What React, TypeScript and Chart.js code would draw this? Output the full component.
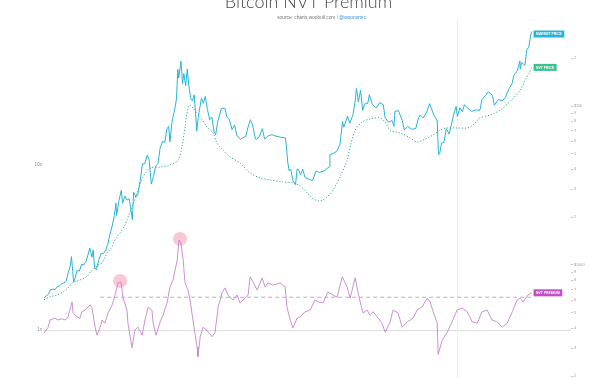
import React, { useEffect, useRef } from "react";
import { Chart, registerables } from "chart.js";
Chart.register(...registerables);

const titleText = "Bitcoin NVT Premium";
const sourceText = "source: charts.woobull.com / ";
const handleText = "@woonomic";

const marketDates = [
  "2016-10-09","2016-10-16","2016-10-23","2016-10-30","2016-11-06","2016-11-13","2016-11-20","2016-11-27",
  "2016-12-04","2016-12-11","2016-12-18","2016-12-25","2017-01-01","2017-01-04","2017-01-08","2017-01-11",
  "2017-01-15","2017-01-22","2017-01-29","2017-02-05","2017-02-12","2017-02-19","2017-02-26","2017-03-03",
  "2017-03-10","2017-03-14","2017-03-18","2017-03-24","2017-04-01","2017-04-08","2017-04-15","2017-04-22",
  "2017-04-29","2017-05-06","2017-05-13","2017-05-20","2017-05-25","2017-05-27","2017-06-03","2017-06-11",
  "2017-06-15","2017-06-22","2017-06-29","2017-07-06","2017-07-16","2017-07-20","2017-07-27","2017-08-03",
  "2017-08-10","2017-08-17","2017-08-24","2017-09-01","2017-09-07","2017-09-14","2017-09-21","2017-09-28",
  "2017-10-05","2017-10-12","2017-10-20","2017-10-27","2017-11-02","2017-11-08","2017-11-12","2017-11-19",
  "2017-11-26","2017-11-29","2017-12-03","2017-12-07","2017-12-10","2017-12-17","2017-12-22","2017-12-26",
  "2018-01-01","2018-01-06","2018-01-11","2018-01-17","2018-01-22","2018-01-28","2018-02-01","2018-02-05",
  "2018-02-10","2018-02-20","2018-02-26","2018-03-04","2018-03-11","2018-03-18","2018-03-25","2018-04-01",
  "2018-04-06","2018-04-12","2018-04-24","2018-05-05","2018-05-12","2018-05-19","2018-05-28","2018-06-05",
  "2018-06-12","2018-06-24","2018-07-01","2018-07-10","2018-07-17","2018-07-25","2018-08-01","2018-08-10",
  "2018-08-14","2018-08-22","2018-09-01","2018-09-08","2018-09-20","2018-10-01","2018-10-15","2018-11-01",
  "2018-11-13","2018-11-16","2018-11-20","2018-11-25","2018-11-30","2018-12-07","2018-12-15","2018-12-20",
  "2018-12-24","2018-12-31","2019-01-07","2019-01-14","2019-01-28","2019-02-07","2019-02-18","2019-03-01",
  "2019-03-15","2019-04-01","2019-04-03","2019-04-15","2019-04-25","2019-05-05","2019-05-13","2019-05-17",
  "2019-05-29","2019-06-05","2019-06-15","2019-06-22","2019-06-26","2019-06-29","2019-07-02","2019-07-09",
  "2019-07-16","2019-07-22","2019-08-01","2019-08-06","2019-08-15","2019-08-28","2019-09-07","2019-09-19",
  "2019-09-25","2019-10-06","2019-10-17","2019-10-23","2019-10-26","2019-11-06","2019-11-18","2019-11-25",
  "2019-12-05","2019-12-18","2019-12-31","2020-01-07","2020-01-14","2020-01-24","2020-02-04","2020-02-13",
  "2020-02-26","2020-03-08","2020-03-12","2020-03-16","2020-03-22","2020-03-29","2020-04-06","2020-04-15",
  "2020-04-29","2020-05-07","2020-05-11","2020-05-19","2020-05-27","2020-06-02","2020-06-10","2020-06-25",
  "2020-07-08","2020-07-21","2020-07-28","2020-08-09","2020-08-17","2020-08-30","2020-09-05","2020-09-18",
  "2020-09-30","2020-10-10","2020-10-21","2020-10-31","2020-11-06","2020-11-17","2020-11-25","2020-11-26",
  "2020-12-01","2020-12-11","2020-12-17","2020-12-23","2020-12-27","2021-01-01"
];
const marketValues = [
  617,640,655,700,705,700,730,735,
  765,770,790,895,1000,1130,910,780,
  820,925,915,1010,1000,1050,1170,1280,
  1120,1245,970,935,1080,1180,1180,1230,
  1350,1560,1760,2040,2450,2050,2520,2950,
  2440,2710,2560,2610,1930,2870,2680,2800,
  3420,4330,4330,4900,4600,3230,3620,4200,
  4330,5440,6000,5900,7150,7450,5950,8040,
  9300,9900,11250,17000,15000,19140,13800,16000,
  13440,17100,13400,11150,10800,11750,9170,6955,
  8600,11200,10400,11500,9500,8200,8500,6850,
  6600,7900,9650,9700,8500,8250,7100,7600,
  6550,6150,6350,6400,7300,8200,7600,6200,
  6200,6400,7200,6200,6500,6600,6450,6350,
  6300,5600,4500,3900,4000,3400,3200,4000,
  4000,3700,4000,3550,3450,3400,3900,3820,
  3900,4150,4950,5050,5200,5750,8000,7350,
  8650,7800,8800,10700,12900,11900,10600,12550,
  9400,10300,10400,11800,10300,9700,10500,10200,
  8450,7900,8100,7450,9250,9350,8150,7050,
  7450,7150,7200,8200,8800,8400,9200,10350,
  8800,8050,4950,5050,5850,5900,7200,6650,
  8800,9950,8600,9750,9200,10200,9800,9250,
  9450,9400,11000,11700,12300,11700,10100,11000,
  10800,11300,12800,13800,15600,16700,19200,17100,
  18800,18000,22800,23200,26300,29400
];

const nvtDates = [
  "2016-10-09","2016-10-28","2016-11-19","2016-12-08","2016-12-24","2017-01-06","2017-01-15","2017-01-31",
  "2017-02-16","2017-02-25","2017-03-10","2017-03-20","2017-03-29","2017-04-11","2017-04-20","2017-04-30",
  "2017-05-13","2017-05-22","2017-06-07","2017-06-23","2017-06-29","2017-07-16","2017-08-02","2017-08-18",
  "2017-09-10","2017-10-12","2017-11-12","2017-12-08","2017-12-20","2017-12-30","2018-01-08","2018-01-15",
  "2018-01-24","2018-02-16","2018-03-10","2018-03-29","2018-04-10","2018-04-29","2018-05-22","2018-06-22",
  "2018-07-24","2018-08-25","2018-09-25","2018-11-06","2018-12-07","2018-12-30","2019-01-21","2019-02-09",
  "2019-03-03","2019-03-25","2019-04-13","2019-05-05","2019-05-28","2019-06-06","2019-06-22","2019-07-14",
  "2019-08-08","2019-09-09","2019-09-25","2019-10-11","2019-11-12","2019-12-13","2020-01-04","2020-01-23",
  "2020-02-24","2020-03-17","2020-04-09","2020-05-10","2020-06-11","2020-06-30","2020-07-22","2020-08-23",
  "2020-09-24","2020-10-25","2020-11-26","2020-12-12","2020-12-24","2021-01-01"
];
const nvtValues = [
  605,630,648,676,717,770,782,805,
  830,865,930,958,1000,1030,1120,1210,
  1300,1440,1590,1790,1920,2350,2900,3550,
  4070,4130,4250,4580,5520,7380,9710,10150,
  9710,8530,7380,6760,5850,5280,4780,4380,
  3790,3530,3430,3330,3280,3140,2840,2600,
  2530,2680,2970,3580,4580,5520,7060,7930,
  8290,8410,7930,7060,6760,6300,5940,6110,
  6580,7060,7280,7280,7280,7600,8410,8780,
  9440,10700,12600,14600,16000,17500
];

const premiumDates = [
  "2016-10-09","2016-10-22","2016-10-28","2016-11-13","2016-11-22","2016-12-05","2016-12-15","2016-12-24",
  "2017-01-06","2017-01-09","2017-01-22","2017-01-31","2017-02-06","2017-02-16","2017-03-04","2017-03-10",
  "2017-03-20","2017-03-26","2017-04-05","2017-04-11","2017-04-20","2017-04-30","2017-05-13","2017-05-22",
  "2017-06-01","2017-06-10","2017-06-16","2017-06-29","2017-07-02","2017-07-15","2017-07-24","2017-08-03",
  "2017-08-16","2017-08-25","2017-09-04","2017-09-16","2017-09-20","2017-09-29","2017-10-12","2017-10-21",
  "2017-11-03","2017-11-12","2017-11-22","2017-12-05","2017-12-11","2017-12-17","2017-12-24","2017-12-30",
  "2018-01-08","2018-01-15","2018-01-24","2018-02-06","2018-02-09","2018-02-16","2018-02-25","2018-03-10",
  "2018-03-26","2018-04-04","2018-04-14","2018-04-26","2018-05-06","2018-05-15","2018-05-31","2018-06-13",
  "2018-06-22","2018-07-08","2018-07-18","2018-07-24","2018-08-03","2018-08-15","2018-08-25","2018-08-31",
  "2018-09-10","2018-09-19","2018-10-05","2018-10-27","2018-11-12","2018-11-18","2018-11-28","2018-12-07",
  "2018-12-20","2018-12-30","2019-01-14","2019-01-30","2019-02-15","2019-02-25","2019-03-12","2019-03-28",
  "2019-04-13","2019-04-26","2019-05-12","2019-05-28","2019-06-06","2019-06-22","2019-07-01","2019-07-08",
  "2019-07-17","2019-07-30","2019-08-08","2019-08-18","2019-09-03","2019-09-15","2019-09-25","2019-10-11",
  "2019-10-20","2019-11-05","2019-11-18","2019-12-04","2019-12-23","2020-01-04","2020-01-20","2020-02-05",
  "2020-02-15","2020-02-24","2020-03-08","2020-03-11","2020-03-24","2020-04-09","2020-04-24","2020-05-10",
  "2020-05-26","2020-06-11","2020-06-27","2020-07-13","2020-07-28","2020-08-13","2020-08-29","2020-09-14",
  "2020-09-30","2020-10-16","2020-11-01","2020-11-16","2020-11-26","2020-12-05","2020-12-21","2021-01-01"
];
const premiumValues = [
  0.96,1.04,1.15,1.18,1.15,1.17,1.15,1.20,
  1.48,1.27,1.20,1.18,1.29,1.32,1.42,1.36,
  1.04,0.93,1.04,1.15,1.10,1.27,1.42,1.63,
  1.93,1.95,1.58,1.32,1.10,0.78,1.00,1.04,
  0.93,1.15,1.38,1.32,1.10,0.93,1.12,1.23,
  1.46,1.82,2.01,2.65,3.51,3.36,2.65,1.93,
  1.75,1.52,1.15,0.79,0.69,0.91,1.04,0.99,
  0.91,0.97,1.38,1.68,1.80,1.63,1.52,1.63,
  1.46,1.56,1.63,2.10,1.95,1.75,1.93,2.07,
  1.82,1.93,1.87,1.93,1.82,1.38,1.15,1.03,
  1.18,1.20,1.29,1.32,1.52,1.48,1.46,1.70,
  1.63,1.58,2.10,1.82,1.56,2.07,1.70,1.48,
  1.27,1.32,1.23,1.29,1.18,1.10,0.97,1.12,
  1.32,1.27,1.04,1.12,1.18,1.32,1.38,1.56,
  1.48,1.29,1.10,0.71,0.87,0.97,1.12,1.32,
  1.36,1.29,1.12,1.10,1.29,1.32,1.15,1.12,
  1.04,1.10,1.29,1.52,1.56,1.48,1.63,1.68
];

const peakDates = ["2017-06-07", "2017-12-14"];
const peakValues = [1.98, 3.56];
const thresholdDates = ["2017-04-05", "2021-01-01"];
const thresholdValues = [1.58, 1.58];
const halvingDate = "2020-05-11";
const xRange = ["2016-10-09", "2021-05-06"];
const priceRange = [194.6, 34760];
const premiumRange = [0.512, 75.6];
const seriesLabels = ["MARKET PRICE", "NVT PRICE", "NVT PREMIUM"];

const toPts = (d: string[], v: number[]) => d.map((s, i) => ({ x: Date.parse(s), y: v[i] }));

const isNice = (v: number) => {
  const e = Math.pow(10, Math.floor(Math.log10(v) + 1e-9));
  const m = v / e;
  return Math.abs(m - Math.round(m)) < 1e-6;
};

const C_MARKET = "#27b4d8";
const C_NVT = "#34a98a";
const C_PREM = "#c683cf";

export default function App() {
  const ref = useRef<HTMLCanvasElement | null>(null);
  useEffect(() => {
    if (!ref.current) return;
    const decor = {
      id: "decor",
      beforeDatasetsDraw(chart: any) {
        const { ctx, chartArea, scales } = chart;
        const x = Math.round(scales.x.getPixelForValue(Date.parse(halvingDate))) + 0.5;
        ctx.save();
        ctx.strokeStyle = "#ededed";
        ctx.lineWidth = 1;
        ctx.beginPath();
        ctx.moveTo(x, chartArea.top);
        ctx.lineTo(x, chartArea.bottom);
        ctx.stroke();
        ctx.restore();
      },
      afterDraw(chart: any) {
        const { ctx, chartArea } = chart;
        ctx.save();
        const cx = (chartArea.left + chartArea.right) / 2 + 1;
        ctx.fillStyle = "#4a4a4a";
        ctx.font = "300 18px Lato, 'Liberation Sans', sans-serif";
        ctx.textAlign = "center";
        ctx.textBaseline = "alphabetic";
        ctx.fillText(titleText, cx, 7.5);
        ctx.font = "4.8px 'Liberation Sans', Arial, sans-serif";
        ctx.textAlign = "left";
        const w1 = ctx.measureText(sourceText).width;
        const w2 = ctx.measureText(handleText).width;
        const sx = cx + 13 - (w1 + w2) / 2;
        ctx.fillStyle = "#777";
        ctx.fillText(sourceText, sx, 19);
        ctx.fillStyle = "#2f8fd6";
        ctx.fillText(handleText, sx + w1, 19);
        const colors = [C_MARKET, "#3cc290", "#c04fc8"];
        ctx.font = "bold 3.4px 'Liberation Sans', Arial, sans-serif";
        ctx.textBaseline = "middle";
        for (let i = 0; i < 3; i++) {
          const meta = chart.getDatasetMeta(i);
          const pt = meta.data[meta.data.length - 1];
          const tw = ctx.measureText(seriesLabels[i]).width;
          const bx = pt.x + 2;
          const by = Math.max(pt.y, chartArea.top + 14);
          ctx.fillStyle = colors[i];
          ctx.fillRect(bx, by - 3.5, tw + 5, 7);
          ctx.fillStyle = "#ffffff";
          ctx.fillText(seriesLabels[i], bx + 2.5, by + 0.3);
        }
        ctx.restore();
      },
    };
    const chart = new Chart(ref.current, {
      type: "line",
      data: {
        datasets: [
          {
            data: toPts(marketDates, marketValues),
            yAxisID: "price",
            borderColor: C_MARKET,
            borderWidth: 1,
            pointRadius: 0,
            pointHoverRadius: 0,
            tension: 0,
          },
          {
            data: toPts(nvtDates, nvtValues),
            yAxisID: "price",
            borderColor: C_NVT,
            borderWidth: 1,
            borderDash: [1.2, 1.8],
            pointRadius: 0,
            pointHoverRadius: 0,
            tension: 0.3,
          },
          {
            data: toPts(premiumDates, premiumValues),
            yAxisID: "prem",
            borderColor: C_PREM,
            borderWidth: 0.9,
            pointRadius: 0,
            pointHoverRadius: 0,
            tension: 0,
          },
          {
            data: toPts(thresholdDates, thresholdValues),
            yAxisID: "prem",
            borderColor: "#bfadbf",
            borderWidth: 1,
            borderDash: [4, 3],
            pointRadius: 0,
            pointHoverRadius: 0,
          },
          {
            data: toPts(peakDates, peakValues),
            yAxisID: "prem",
            showLine: false,
            pointRadius: 7,
            pointHoverRadius: 7,
            pointBorderWidth: 0,
            pointBackgroundColor: "rgba(238,120,150,0.4)",
            borderColor: "rgba(0,0,0,0)",
          },
        ],
      },
      options: {
        responsive: false,
        animation: false,
        devicePixelRatio: 1,
        layout: { autoPadding: false, padding: { top: 20, bottom: 0, left: 0, right: 0 } },
        plugins: { legend: { display: false }, tooltip: { enabled: false }, title: { display: false } },
        scales: {
          x: {
            type: "linear",
            display: false,
            min: Date.parse(xRange[0]),
            max: Date.parse(xRange[1]),
          },
          prem: {
            type: "logarithmic",
            position: "left",
            min: premiumRange[0],
            max: premiumRange[1],
            border: { display: false },
            grid: {
              drawTicks: false,
              color: (c: any) => (c.tick && Math.abs(c.tick.value - 1) < 1e-6 ? "#dcdcdc" : "rgba(0,0,0,0)"),
            },
            ticks: {
              autoSkip: false,
              padding: 2,
              color: "#888",
              font: { size: 4.6, family: "'Liberation Sans', Arial, sans-serif" },
              callback: (v: any) => {
                const n = Number(v);
                if (Math.abs(n - 1) < 1e-6) return "1x";
                if (Math.abs(n - 10) < 1e-6) return "10x";
                return "";
              },
            },
            afterFit: (s: any) => {
              s.width = 44;
              s.paddingTop = 0;
              s.paddingBottom = 0;
            },
          },
          price: {
            type: "logarithmic",
            position: "right",
            min: priceRange[0],
            max: priceRange[1],
            border: { display: false },
            grid: {
              drawOnChartArea: false,
              tickLength: 2,
              tickColor: (c: any) =>
                c.tick && isNice(c.tick.value) && c.tick.value <= 20000 ? "#c8c8c8" : "rgba(0,0,0,0)",
            },
            ticks: {
              autoSkip: false,
              padding: 1,
              color: "#999",
              font: { size: 3.8, family: "'Liberation Sans', Arial, sans-serif" },
              callback: (v: any) => {
                const n = Number(v);
                if (!isNice(n) || n > 20000) return "";
                if (Math.abs(n - 1000) < 1e-6) return "$1000";
                if (Math.abs(n - 10000) < 1e-6) return "$10k";
                const e = Math.pow(10, Math.floor(Math.log10(n) + 1e-9));
                return String(Math.round(n / e));
              },
            },
            afterFit: (s: any) => {
              s.width = 29;
              s.paddingTop = 0;
              s.paddingBottom = 0;
            },
          },
        },
      },
      plugins: [decor],
    } as any);
    return () => chart.destroy();
  }, []);
  return (
    <div style={{ position: "absolute", left: 0, top: 0, width: 600, height: 378, background: "#fff" }}>
      <canvas ref={ref} width={600} height={378} style={{ display: "block" }} />
    </div>
  );
}
